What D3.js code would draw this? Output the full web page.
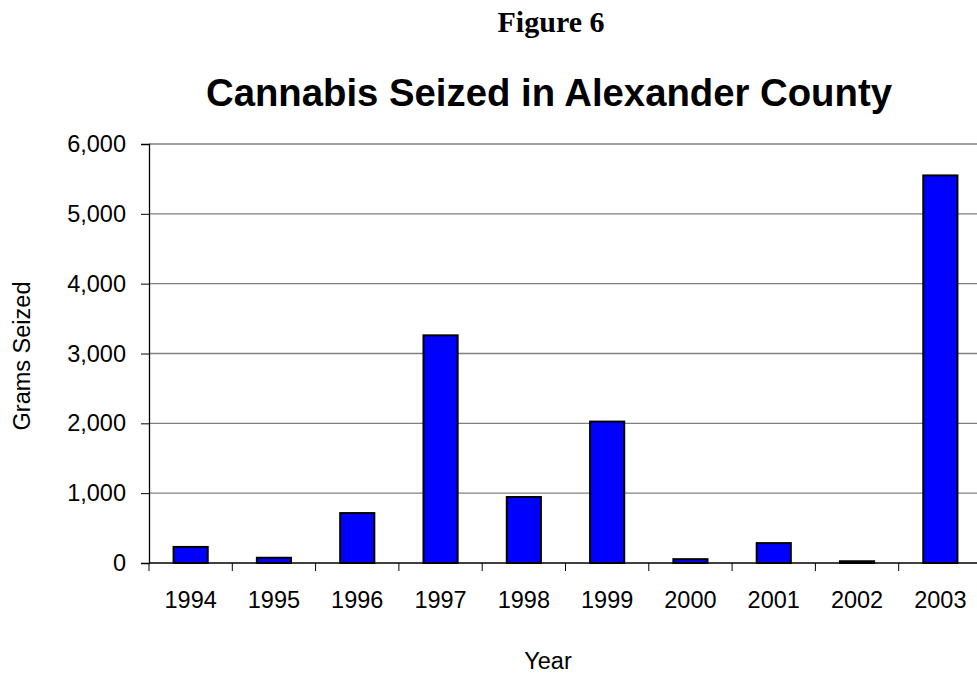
<!DOCTYPE html>
<html>
<head>
<meta charset="utf-8">
<script src="https://cdn.jsdelivr.net/npm/d3@7"></script>
<style>
body { margin: 0; background: #fff; }
text { font-family: Arial, "Liberation Sans", sans-serif; }
</style>
</head>
<body>
<div class="chart"></div>
<script>
var years = ["1994", "1995", "1996", "1997", "1998", "1999", "2000", "2001", "2002", "2003"];
var grams = [230, 75, 715, 3260, 945, 2025, 55, 285, 25, 5550];
var yTicks = [0, 1000, 2000, 3000, 4000, 5000, 6000];

var marg = { t: 144, r: -5, b: 112, l: 149 };
var wid = 977 - marg.l - marg.r;
var hei = 675 - marg.t - marg.b;

var root = d3.select(".chart")
    .append("svg")
    .attr("width", 977)
    .attr("height", 675);

var svg = root.append("g")
    .attr("transform", "translate(" + marg.l + "," + marg.t + ")");

var xscale = d3.scaleBand()
    .domain(years)
    .range([0, wid])
    .paddingInner(0.59)
    .paddingOuter(0.295);

var yscale = d3.scaleLinear()
    .domain([0, 6000])
    .range([hei, 0]);

// gridlines
svg.selectAll("line.grid")
    .data(yTicks.slice(1))
    .enter().append("line")
    .attr("class", "grid")
    .attr("x1", 0)
    .attr("x2", wid)
    .attr("y1", function(d) { return yscale(d); })
    .attr("y2", function(d) { return yscale(d); })
    .style("stroke", "#808080")
    .style("stroke-width", 1.3);

var yAxis = d3.axisLeft(yscale)
    .tickValues(yTicks)
    .tickSize(8)
    .tickPadding(15)
    .tickFormat(d3.format(","));

var gy = svg.append("g").call(yAxis);
gy.select(".domain").attr("stroke", "#000").attr("stroke-width", 1.3);
gy.selectAll(".tick line").attr("stroke", "#000");
gy.selectAll("text").style("font-size", "23.5px").attr("fill", "#000");

// x axis with ticks at category boundaries
var step = xscale.step();
var gx = svg.append("g").attr("transform", "translate(0," + hei + ")");
gx.append("line")
    .attr("x1", 0).attr("x2", wid)
    .attr("stroke", "#000").attr("stroke-width", 1.3);
gx.selectAll("line.tk")
    .data(d3.range(years.length + 1))
    .enter().append("line")
    .attr("class", "tk")
    .attr("x1", function(i) { return i * step; })
    .attr("x2", function(i) { return i * step; })
    .attr("y1", 0).attr("y2", 8)
    .attr("stroke", "#000");
gx.selectAll("text")
    .data(years)
    .enter().append("text")
    .attr("x", function(d) { return xscale(d) + xscale.bandwidth() / 2; })
    .attr("y", 45)
    .style("text-anchor", "middle")
    .style("font-size", "23.5px")
    .text(function(d) { return d; });

svg.selectAll("rect.bar")
    .data(years)
    .enter().append("rect")
    .attr("class", "bar")
    .attr("x", function(d) { return xscale(d); })
    .attr("width", xscale.bandwidth())
    .attr("y", function(d, i) { return yscale(grams[i]); })
    .attr("height", function(d, i) { return hei - yscale(grams[i]); })
    .style("fill", "#0000ff")
    .style("stroke", "#000")
    .style("stroke-width", 2);

root.append("text")
    .attr("x", 551)
    .attr("y", 32)
    .style("text-anchor", "middle")
    .style("font-family", "'Liberation Serif', 'Times New Roman', serif")
    .style("font-weight", "bold")
    .style("font-size", "30px")
    .text("Figure 6");

root.append("text")
    .attr("x", 549)
    .attr("y", 106)
    .style("text-anchor", "middle")
    .style("font-weight", "bold")
    .style("font-size", "38.3px")
    .text("Cannabis Seized in Alexander County");

root.append("text")
    .attr("transform", "rotate(-90)")
    .attr("x", -356)
    .attr("y", 30)
    .style("text-anchor", "middle")
    .style("font-size", "23.5px")
    .text("Grams Seized");

root.append("text")
    .attr("x", 548)
    .attr("y", 669)
    .style("text-anchor", "middle")
    .style("font-size", "23.5px")
    .text("Year");
</script>
</body>
</html>
